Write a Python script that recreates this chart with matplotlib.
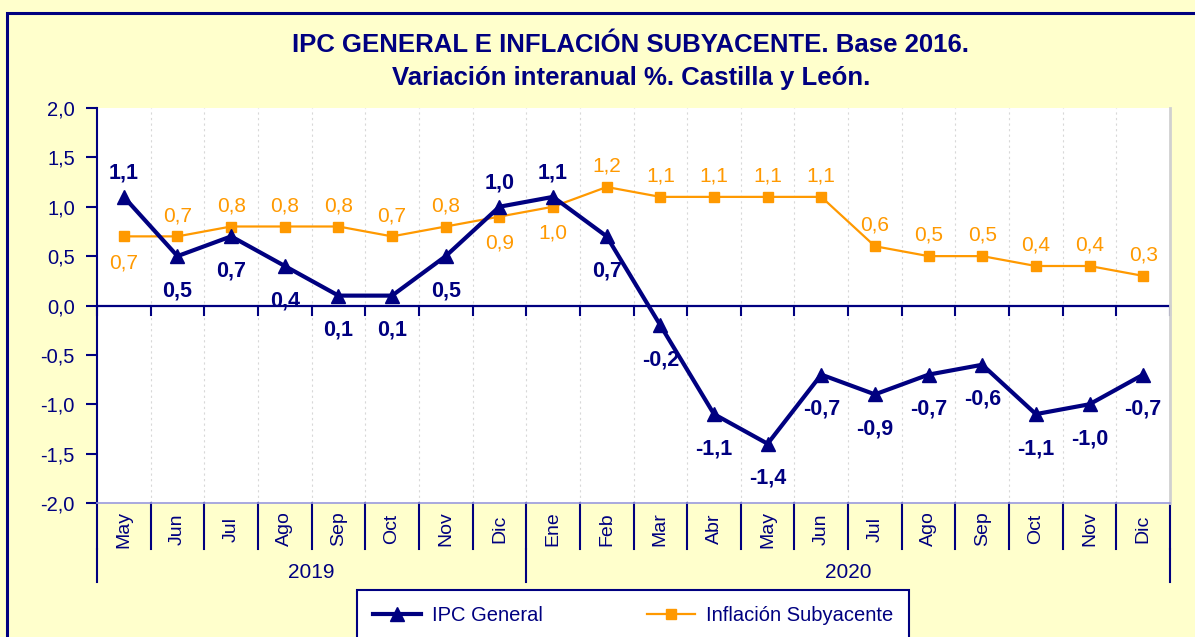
import matplotlib.pyplot as plt
import matplotlib.patches as mpatches

plt.rcParams['font.family'] = ['Liberation Sans', 'DejaVu Sans']

# datos
meses = ['May', 'Jun', 'Jul', 'Ago', 'Sep', 'Oct', 'Nov', 'Dic',
         'Ene', 'Feb', 'Mar', 'Abr', 'May', 'Jun', 'Jul', 'Ago', 'Sep', 'Oct', 'Nov', 'Dic']
anios = ['2019', '2020']
meses_por_anio = [8, 12]
ipc_general = [1.1, 0.5, 0.7, 0.4, 0.1, 0.1, 0.5, 1.0,
               1.1, 0.7, -0.2, -1.1, -1.4, -0.7, -0.9, -0.7, -0.6, -1.1, -1.0, -0.7]
subyacente = [0.7, 0.7, 0.8, 0.8, 0.8, 0.7, 0.8, 0.9,
              1.0, 1.2, 1.1, 1.1, 1.1, 1.1, 0.6, 0.5, 0.5, 0.4, 0.4, 0.3]

NAVY = '#000080'
ORANGE = '#FF9900'
W, H = 1195, 637

fig = plt.figure(figsize=(W / 100, H / 100), dpi=100)
fig.patch.set_facecolor('#FFFFCC')
# marco exterior
fig.patches.append(mpatches.Rectangle((7 / W, -0.05), 1.1, 1 - 13 / H + 0.05,
                                      transform=fig.transFigure, fill=False,
                                      edgecolor=NAVY, lw=2.2))

ax = fig.add_axes([97 / W, 1 - 503 / H, (1170 - 97) / W, (503 - 108) / H])
ax.set_facecolor('white')
x = list(range(len(meses)))
ax.set_xlim(-0.5, len(meses) - 0.5)
ax.set_ylim(-2, 2)

# rejilla vertical punteada
for b in range(1, len(meses)):
    ax.axvline(b - 0.5, color='#D8D8D8', lw=0.8, ls=(0, (2, 3)), zorder=0)

ax.spines['top'].set_visible(False)
ax.spines['right'].set_color('#D0D0D0')
ax.spines['right'].set_linewidth(2)
ax.spines['bottom'].set_color('#9999DD')
ax.spines['bottom'].set_linewidth(1.2)
ax.spines['left'].set_color(NAVY)
ax.spines['left'].set_linewidth(1.5)

yt = [-2.0, -1.5, -1.0, -0.5, 0.0, 0.5, 1.0, 1.5, 2.0]
ax.set_yticks(yt)
ax.set_yticklabels([f'{v:.1f}'.replace('.', ',') for v in yt])
ax.tick_params(axis='y', colors=NAVY, labelsize=14.5, length=8, width=1.5, pad=8)
ax.set_xticks([])

# eje en cero con marcas
ax.axhline(0, color=NAVY, lw=1.6, zorder=2)
for b in range(len(meses) + 1):
    ax.plot([b - 0.5, b - 0.5], [0, -0.1], color=NAVY, lw=1.5, zorder=2, clip_on=False)

# series
ax.plot(x, ipc_general, color=NAVY, lw=3, marker='^', ms=10, zorder=4,
        label='IPC General')
ax.plot(x, subyacente, color=ORANGE, lw=1.6, marker='s', ms=6.5, zorder=3,
        label='Inflación Subyacente')

# etiquetas IPC
ipc_arriba = {0, 7, 8}
for i, v in enumerate(ipc_general):
    txt = f'{v:.1f}'.replace('.', ',')
    off = (0, 17) if i in ipc_arriba else (0, -25)
    ax.annotate(txt, (i, v), xytext=off, textcoords='offset points',
                ha='center', va='center', color=NAVY, fontsize=15.5,
                fontweight='bold', zorder=6)

# etiquetas subyacente
sub_abajo = {0, 7, 8}
for i, v in enumerate(subyacente):
    txt = f'{v:.1f}'.replace('.', ',')
    off = (0, -19) if i in sub_abajo else (0, 15)
    ax.annotate(txt, (i, v), xytext=off, textcoords='offset points',
                ha='center', va='center', color=ORANGE, fontsize=15, zorder=6)

# eje de categorias en dos niveles
px = 1 / 395
trans = ax.get_xaxis_transform()
for b in range(len(meses) + 1):
    ax.plot([b - 0.5, b - 0.5], [0, -46 * px], color=NAVY, lw=1.5,
            transform=trans, clip_on=False)
for i, m in enumerate(meses):
    ax.text(i, -26 * px, m, rotation=90, ha='center', va='center',
            color=NAVY, fontsize=14, transform=trans)
inicio = -0.5
for a, n in zip(anios, meses_por_anio):
    ax.plot([inicio, inicio], [-46 * px, -79 * px], color=NAVY, lw=1.5,
            transform=trans, clip_on=False)
    ax.text(inicio + n / 2, -70 * px, a, ha='center', va='center',
            color=NAVY, fontsize=15, transform=trans)
    inicio += n
ax.plot([inicio, inicio], [-46 * px, -79 * px], color=NAVY, lw=1.5,
        transform=trans, clip_on=False)

# titulo
fig.text(631 / W, 1 - 45 / H, 'IPC GENERAL E INFLACIÓN SUBYACENTE. Base 2016.',
         ha='center', va='center', color=NAVY, fontsize=18.5, fontweight='bold')
fig.text(631 / W, 1 - 78 / H, 'Variación interanual %. Castilla y León.',
         ha='center', va='center', color=NAVY, fontsize=18.5, fontweight='bold')

# leyenda
leg = fig.legend(loc='lower left', bbox_to_anchor=(357 / W, -4 / H),
                 ncol=2, frameon=True, fancybox=False, fontsize=14.5,
                 handlelength=2.4, handletextpad=0.5, columnspacing=5.2,
                 borderpad=0.8, borderaxespad=0)
leg.get_frame().set_edgecolor(NAVY)
leg.get_frame().set_linewidth(1.5)
leg.get_frame().set_facecolor('white')
leg.get_frame().set_alpha(1)
for t in leg.get_texts():
    t.set_color(NAVY)

fig.savefig('out.png', dpi=100, facecolor=fig.get_facecolor())
